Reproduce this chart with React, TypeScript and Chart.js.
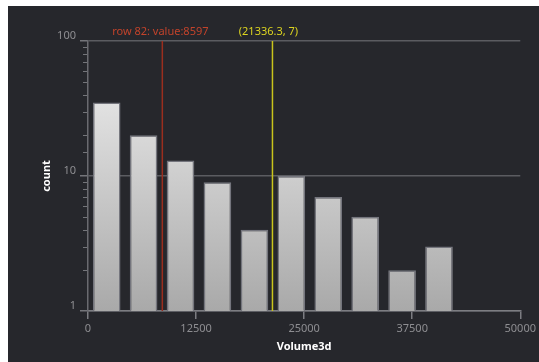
import React, { useEffect, useRef } from "react";
import { Chart, registerables } from "chart.js";

Chart.register(...registerables);

// Histogram bins of Volume3d (bin centers) and their counts
const binCenters = [2160, 6430, 10700, 14970, 19250, 23520, 27790, 32060, 36330, 40600];
const counts = [35, 20, 13, 9, 4, 10, 7, 5, 2, 3];

const xTicks = [0, 12500, 25000, 37500, 50000];
const yMin = 1;
const yMax = 100;

// Marker lines
const rowMarkerValue = 8597;
const rowMarkerLabel = "row 82: value:8597";
const cursorValue = 21336.3;
const cursorLabel = "(21336.3, 7)";

const FONT = "'Noto Sans', 'Open Sans', sans-serif";

const isPow10 = (v: number) => {
  const l = Math.log10(v);
  return Math.abs(l - Math.round(l)) < 1e-9;
};

const markersPlugin = {
  id: "markers",
  afterDatasetsDraw(chart: any) {
    const { ctx, chartArea, scales } = chart;
    const x = scales.x;
    const y = scales.y;
    ctx.save();
    // minor ticks on y axis
    ctx.strokeStyle = "#74757a";
    ctx.lineWidth = 1;
    for (const t of y.ticks) {
      if (isPow10(t.value)) continue;
      const py = Math.round(y.getPixelForValue(t.value)) + 0.5;
      ctx.beginPath();
      ctx.moveTo(chartArea.left - 5, py);
      ctx.lineTo(chartArea.left - 1, py);
      ctx.stroke();
    }
    const drawMarker = (val: number, color: string, textColor: string, label: string, dx: number) => {
      const px = x.getPixelForValue(val);
      ctx.strokeStyle = color;
      ctx.lineWidth = 1.5;
      ctx.beginPath();
      ctx.moveTo(px, chartArea.top);
      ctx.lineTo(px, chartArea.bottom);
      ctx.stroke();
      ctx.fillStyle = textColor;
      ctx.font = `11px ${FONT}`;
      ctx.textAlign = "center";
      ctx.textBaseline = "middle";
      ctx.fillText(label, px + dx, chartArea.top - 9);
    };
    drawMarker(rowMarkerValue, "#9a2e1e", "#c2432b", rowMarkerLabel, -2);
    drawMarker(cursorValue, "#c9c41c", "#dcd420", cursorLabel, -4);
    ctx.restore();
  },
};

export default function App() {
  const canvasRef = useRef<HTMLCanvasElement | null>(null);

  useEffect(() => {
    if (!canvasRef.current) return;
    const chart = new Chart(canvasRef.current, {
      type: "bar",
      data: {
        datasets: [
          {
            data: binCenters.map((c, i) => ({ x: c, y: counts[i] })),
            backgroundColor: (c: any) => {
              const area = c.chart.chartArea;
              if (!area) return "#cccccc";
              const g = c.chart.ctx.createLinearGradient(0, area.top, 0, area.bottom);
              g.addColorStop(0, "#f2f2f2");
              g.addColorStop(1, "#a9a9a9");
              return g;
            },
            borderColor: "#74757d",
            borderWidth: 1.5,
            barPercentage: 0.75,
            categoryPercentage: 1,
          },
        ],
      },
      options: {
        animation: false,
        responsive: true,
        maintainAspectRatio: false,
        layout: { padding: { left: 0, right: 18, top: 35, bottom: 0 } },
        plugins: { legend: { display: false }, tooltip: { enabled: false } },
        scales: {
          x: {
            type: "linear",
            min: 0,
            max: 50000,
            offset: false,
            afterFit: (s: any) => {
              s.height = 51;
            },
            afterBuildTicks: (s: any) => {
              s.ticks = xTicks.map((v) => ({ value: v }));
            },
            ticks: {
              color: "#8e8e92",
              font: { family: FONT, size: 11 },
              padding: 3,
              maxRotation: 0,
              autoSkip: false,
              callback: (v: any) => String(v),
            },
            grid: {
              display: true,
              offset: false,
              drawOnChartArea: false,
              drawTicks: true,
              tickLength: 8,
              tickColor: "#7c7d82",
              lineWidth: 1.5,
            },
            border: { display: true, color: "#7c7d82", width: 1.5 },
            title: {
              display: true,
              text: "Volume3d",
              color: "#ffffff",
              font: { family: FONT, size: 11, weight: "bold" },
              padding: { top: 0, bottom: 9 },
            },
          },
          y: {
            type: "logarithmic",
            min: yMin,
            max: yMax,
            afterFit: (s: any) => {
              s.width = 80;
            },
            ticks: {
              color: "#8e8e92",
              font: { family: FONT, size: 11 },
              padding: 4,
              labelOffset: -5,
              autoSkip: false,
              callback: (v: any) => (isPow10(Number(v)) ? String(v) : ""),
            },
            grid: {
              drawTicks: true,
              tickLength: 8,
              color: (c: any) => (c.tick && isPow10(c.tick.value) ? "#5b5c61" : "rgba(0,0,0,0)"),
              tickColor: (c: any) => (c.tick && isPow10(c.tick.value) ? "#74757a" : "rgba(0,0,0,0)"),
              lineWidth: 1.5,
            },
            border: { display: true, color: "#6a6b70", width: 1.5 },
            title: {
              display: true,
              text: "count",
              color: "#ffffff",
              font: { family: FONT, size: 11, weight: "bold" },
              padding: { top: 32, bottom: 0 },
            },
          },
        },
      },
      plugins: [markersPlugin],
    } as any);
    return () => chart.destroy();
  }, []);

  return (
    <div
      style={{
        position: "fixed",
        left: 8,
        top: 6,
        width: 531,
        height: 356,
        background: "#26272c",
      }}
    >
      <canvas ref={canvasRef} />
    </div>
  );
}
